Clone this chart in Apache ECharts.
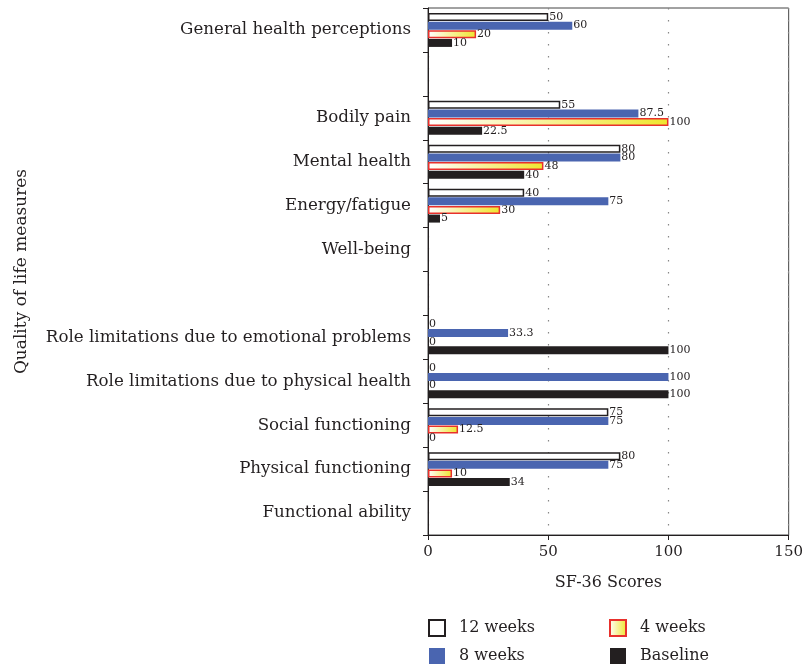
<!DOCTYPE html>
<html>
<head>
<meta charset="utf-8">
<script src="https://cdn.jsdelivr.net/npm/echarts@6/dist/echarts.min.js"></script>
<style>html,body{margin:0;padding:0;background:#fff;}#c{width:806px;height:667px;}</style>
</head>
<body>
<div id="c"></div>
<script>
const categories = ['General health perceptions', ' ', 'Bodily pain', 'Mental health', 'Energy/fatigue', 'Well-being', '  ', 'Role limitations due to emotional problems', 'Role limitations due to physical health', 'Social functioning', 'Physical functioning', 'Functional ability'];
const weeks12 = [50, null, 55, 80, 40, null, null, 0, 0, 75, 80, null];
const weeks8 = [60, null, 87.5, 80, 75, null, null, 33.3, 100, 75, 75, null];
const weeks4 = [20, null, 100, 48, 30, null, null, 0, 0, 12.5, 10, null];
const baseline = [10, null, 22.5, 40, 5, null, null, 100, 100, 0, 34, null];
const xTicks = [0, 50, 100, 150];

const FONT = 'DejaVu Serif';
const TXT = '#231f20';
const chart = echarts.init(document.getElementById('c'));
const lbl = {show: true, position: 'right', distance: 1, fontFamily: FONT, fontSize: 11, color: TXT};
const prep = arr => arr.map(v => v === 0 ? {value: 0, itemStyle: {borderWidth: 0}} : v);
const mk = (name, data, itemStyle) => ({
  name, type: 'bar', data: prep(data), barWidth: 8, barGap: '8%', itemStyle, label: lbl
});
const legendBase = {orient: 'vertical', top: 619, padding: 0, icon: 'rect', itemWidth: 16, itemHeight: 16, itemGap: 11,
  textStyle: {fontFamily: FONT, fontSize: 16, color: TXT, padding: [0, 0, 0, 9]}};
chart.setOption({
  animation: false,
  grid: {left: 428, right: 16, top: 8, bottom: 132, show: true, borderColor: '#444', borderWidth: 1},
  xAxis: {
    type: 'value', min: xTicks[0], max: xTicks[xTicks.length - 1], interval: 50,
    name: 'SF-36 Scores', nameLocation: 'middle', nameGap: 40,
    nameTextStyle: {fontFamily: FONT, fontSize: 16, color: TXT},
    axisLine: {show: true, lineStyle: {color: TXT, width: 1}},
    axisTick: {show: true, length: 5, lineStyle: {color: TXT}},
    axisLabel: {fontFamily: FONT, fontSize: 15, color: TXT, margin: 10},
    splitLine: {show: true, lineStyle: {color: '#888', type: [1.5, 10.5], width: 1.2}}
  },
  yAxis: {
    type: 'category', data: categories, inverse: true,
    name: 'Quality of life measures', nameLocation: 'middle', nameGap: 398,
    nameTextStyle: {fontFamily: FONT, fontSize: 17, color: TXT},
    axisLine: {show: true, lineStyle: {color: TXT, width: 1}},
    axisTick: {show: true, length: 5, lineStyle: {color: TXT}},
    axisLabel: {fontFamily: FONT, fontSize: 16.7, color: TXT, margin: 17}
  },
  legend: [
    Object.assign({data: ['12 weeks', '8 weeks'], left: 428}, legendBase),
    Object.assign({data: ['4 weeks', 'Baseline'], left: 609}, legendBase)
  ],
  series: [
    mk('12 weeks', weeks12, {color: '#ffffff', borderColor: TXT, borderWidth: 1.5}),
    mk('8 weeks', weeks8, {color: '#4a65b0'}),
    mk('4 weeks', weeks4, {color: new echarts.graphic.LinearGradient(0, 0, 1, 0, [{offset: 0, color: '#ffffff'}, {offset: 1, color: '#efe52e'}]), borderColor: '#e8302c', borderWidth: 1.5}),
    mk('Baseline', baseline, {color: TXT})
  ]
});
</script>
</body>
</html>
